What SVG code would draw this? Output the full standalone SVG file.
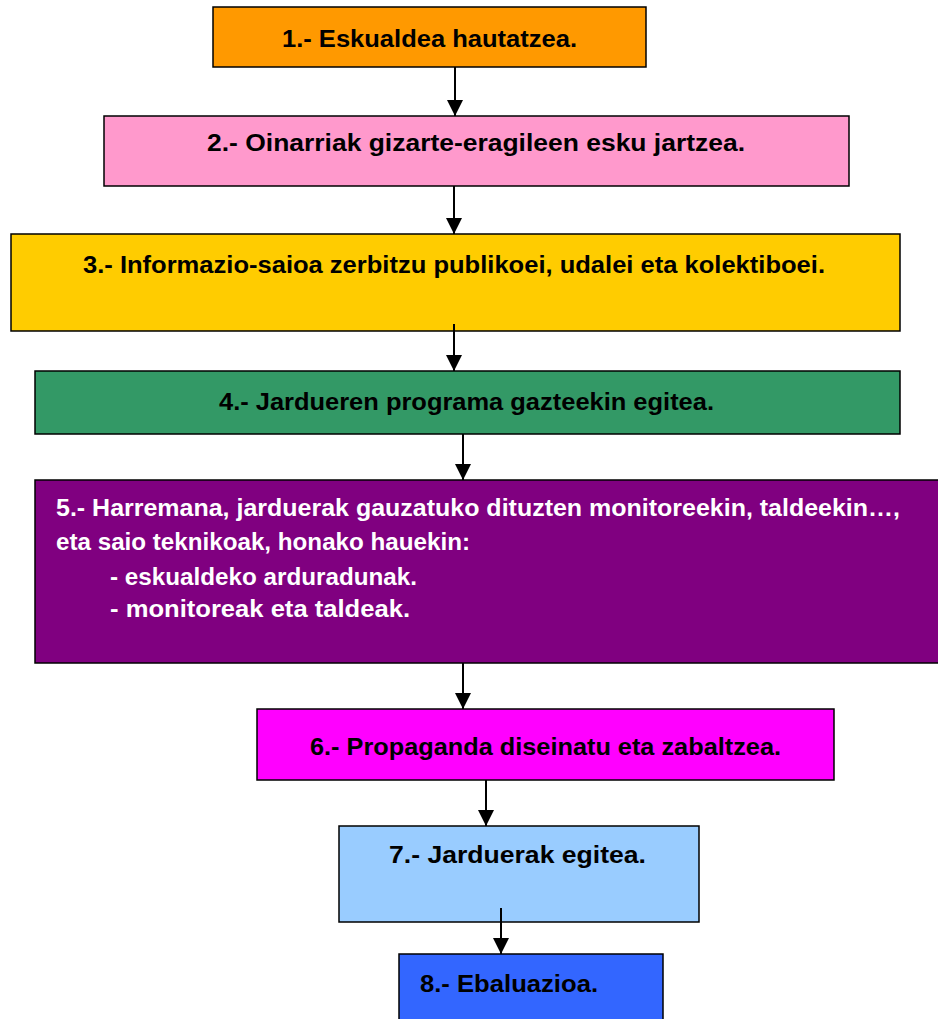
<svg xmlns="http://www.w3.org/2000/svg" width="938" height="1019" viewBox="0 0 938 1019">
<style>
.box{stroke:#000;stroke-width:1.5}
.t{font-family:"Liberation Sans",Arial,sans-serif;font-weight:bold;font-size:23px;fill:#000}
.w{fill:#fff}
.c{stroke:#000;stroke-width:2;fill:none}
</style>
<defs>
<marker id="ah" markerUnits="userSpaceOnUse" markerWidth="16" markerHeight="16" refX="16" refY="8" orient="auto">
<path d="M0,0 L16,8 L0,16 Z" fill="#000"/>
</marker>
</defs>
<rect width="938" height="1019" fill="#fff"/>
<g id="n1">
<rect class="box" x="213" y="7" width="433" height="60" fill="#FF9900"/>
<text class="t" x="282" y="47" textLength="295" lengthAdjust="spacingAndGlyphs">1.- Eskualdea hautatzea.</text>
</g>
<g id="n2">
<rect class="box" x="104" y="116" width="745" height="70" fill="#FF99CC"/>
<text class="t" x="207" y="151" textLength="538" lengthAdjust="spacingAndGlyphs">2.- Oinarriak gizarte-eragileen esku jartzea.</text>
</g>
<g id="n3">
<rect class="box" x="11" y="234" width="889" height="97" fill="#FFCC00"/>
<text class="t" x="83" y="273" textLength="742" lengthAdjust="spacingAndGlyphs">3.- Informazio-saioa zerbitzu publikoei, udalei eta kolektiboei.</text>
</g>
<g id="n4">
<rect class="box" x="35" y="371" width="865" height="63" fill="#339966"/>
<text class="t" x="219" y="410" textLength="495" lengthAdjust="spacingAndGlyphs">4.- Jardueren programa gazteekin egitea.</text>
</g>
<g id="n5">
<rect class="box" x="35" y="480" width="910" height="183" fill="#800080"/>
<text class="t w" x="56" y="516" textLength="844" lengthAdjust="spacingAndGlyphs">5.- Harremana, jarduerak gauzatuko dituzten monitoreekin, taldeekin…,</text>
<text class="t w" x="56" y="550" textLength="414" lengthAdjust="spacingAndGlyphs">eta saio teknikoak, honako hauekin:</text>
<text class="t w" x="110" y="585" textLength="307" lengthAdjust="spacingAndGlyphs">- eskualdeko arduradunak.</text>
<text class="t w" x="110" y="617" textLength="300" lengthAdjust="spacingAndGlyphs">- monitoreak eta taldeak.</text>
</g>
<g id="n6">
<rect class="box" x="257" y="709" width="577" height="71" fill="#FF00FF"/>
<text class="t" x="310" y="755" textLength="471" lengthAdjust="spacingAndGlyphs">6.- Propaganda diseinatu eta zabaltzea.</text>
</g>
<g id="n7">
<rect class="box" x="339" y="826" width="360" height="96" fill="#99CCFF"/>
<text class="t" x="389" y="863" textLength="257" lengthAdjust="spacingAndGlyphs">7.- Jarduerak egitea.</text>
</g>
<g id="n8">
<rect class="box" x="399" y="954" width="264" height="80" fill="#3366FF"/>
<text class="t" x="420" y="992" textLength="178" lengthAdjust="spacingAndGlyphs">8.- Ebaluazioa.</text>
</g>
<g id="connectors">
<line class="c" x1="455" y1="67" x2="455" y2="116" marker-end="url(#ah)"/>
<line class="c" x1="454" y1="186" x2="454" y2="234" marker-end="url(#ah)"/>
<line class="c" x1="454" y1="324" x2="454" y2="371" marker-end="url(#ah)"/>
<line class="c" x1="463" y1="434" x2="463" y2="480" marker-end="url(#ah)"/>
<line class="c" x1="463" y1="663" x2="463" y2="709" marker-end="url(#ah)"/>
<line class="c" x1="486" y1="780" x2="486" y2="826" marker-end="url(#ah)"/>
<line class="c" x1="501" y1="908" x2="501" y2="954" marker-end="url(#ah)"/>
</g>
</svg>
